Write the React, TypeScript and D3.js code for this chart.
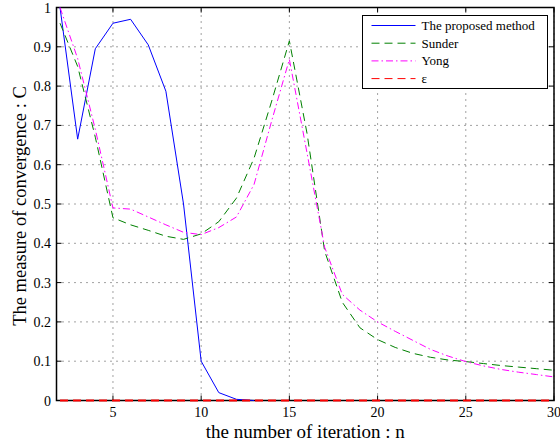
import React from "react";
import * as d3 from "d3";

// Iteration numbers for each series
const proposedN = [2, 3, 4, 5, 6, 7, 8, 9, 10, 11, 12, 13];
const proposedC = [1.0, 0.665, 0.895, 0.96, 0.97, 0.905, 0.787, 0.5, 0.1, 0.02, 0.003, 0.0];

const compareN = [2, 3, 4, 5, 6, 7, 8, 9, 10, 11, 12, 13, 14, 15, 16, 17, 18, 19, 20, 21, 22, 23, 24, 25, 26, 27, 28, 29, 30];
const sunderC = [0.96, 0.85, 0.67, 0.465, 0.447, 0.433, 0.418, 0.41, 0.424, 0.455, 0.515, 0.617, 0.762, 0.915, 0.68, 0.38, 0.25, 0.185, 0.155, 0.135, 0.12, 0.11, 0.103, 0.099, 0.094, 0.089, 0.085, 0.081, 0.077];
const yongC = [1.0, 0.87, 0.69, 0.49, 0.487, 0.467, 0.447, 0.428, 0.422, 0.44, 0.467, 0.55, 0.712, 0.868, 0.63, 0.39, 0.27, 0.23, 0.2, 0.176, 0.153, 0.13, 0.113, 0.099, 0.088, 0.079, 0.072, 0.066, 0.06];

const epsN = [2, 30];
const epsC = [0, 0];

const xTicks = [5, 10, 15, 20, 25, 30];
const yTicks = [0, 0.1, 0.2, 0.3, 0.4, 0.5, 0.6, 0.7, 0.8, 0.9, 1];

const legendLabels = ["The proposed method", "Sunder", "Yong", "ε"];

const W = 560;
const H = 444;
const plot = { left: 56.5, right: 554, top: 7.5, bottom: 400.5 };
const font = "'Liberation Serif', 'Times New Roman', serif";

export default function App() {
  const x = d3.scaleLinear().domain([1.8, 30]).range([plot.left, plot.right]);
  const y = d3.scaleLinear().domain([0, 1]).range([plot.bottom, plot.top]);

  const line = (xs: number[], ys: number[]) =>
    d3
      .line<number>()
      .x((_, i) => x(xs[i]))
      .y((d) => y(d))(ys) as string;

  const series = [
    { label: legendLabels[0], d: line(proposedN, proposedC), color: "#0000ff", dash: "", width: 1 },
    { label: legendLabels[1], d: line(compareN, sunderC), color: "#008000", dash: "8,5", width: 1 },
    { label: legendLabels[2], d: line(compareN, yongC), color: "#ff00ff", dash: "7,3,1.5,3", width: 1 },
    { label: legendLabels[3], d: line(epsN, epsC), color: "#ff0000", dash: "8,5", width: 2 },
  ];

  const tickLen = 5;
  const legend = { x: 362.5, y: 15.5, w: 185, h: 73, rowH: 17.7 };

  return (
    <svg width={W} height={H} style={{ position: "absolute", left: 0, top: 0, background: "#fff" }}>
      <rect x={0} y={0} width={W} height={H} fill="#fff" />
      {/* dotted grid */}
      <g stroke="#444" strokeWidth={1} strokeDasharray="1,5">
        {xTicks.map((t) => (
          <line key={"gx" + t} x1={x(t)} x2={x(t)} y1={plot.bottom} y2={plot.top} />
        ))}
        {yTicks.map((t) => (
          <line key={"gy" + t} x1={plot.left} x2={plot.right} y1={y(t)} y2={y(t)} />
        ))}
      </g>
      {/* inward ticks on all four sides */}
      <g stroke="#000" strokeWidth={1}>
        {xTicks.map((t) => (
          <g key={"tx" + t}>
            <line x1={x(t)} x2={x(t)} y1={plot.bottom} y2={plot.bottom - tickLen} />
            <line x1={x(t)} x2={x(t)} y1={plot.top} y2={plot.top + tickLen} />
          </g>
        ))}
        {yTicks.map((t) => (
          <g key={"ty" + t}>
            <line x1={plot.left} x2={plot.left + tickLen} y1={y(t)} y2={y(t)} />
            <line x1={plot.right} x2={plot.right - tickLen} y1={y(t)} y2={y(t)} />
          </g>
        ))}
      </g>
      <rect
        x={plot.left}
        y={plot.top}
        width={plot.right - plot.left}
        height={plot.bottom - plot.top}
        fill="none"
        stroke="#000"
        strokeWidth={1.5}
      />
      {/* data */}
      <g fill="none">
        {series.map((s) => (
          <path key={s.label} d={s.d} stroke={s.color} strokeWidth={s.width} strokeDasharray={s.dash || undefined} />
        ))}
      </g>
      {/* tick labels */}
      <g fontFamily={font} fontSize={14} fill="#000">
        {xTicks.map((t) => (
          <text key={"lx" + t} x={x(t)} y={417} textAnchor="middle">
            {t}
          </text>
        ))}
        {yTicks.map((t) => (
          <text key={"ly" + t} x={51} y={y(t) + 5} textAnchor="end">
            {t}
          </text>
        ))}
      </g>
      {/* axis titles */}
      <text x={(plot.left + plot.right) / 2} y={438} textAnchor="middle" fontFamily={font} fontSize={19}>
        the number of iteration : n
      </text>
      <text
        transform={`translate(26, ${(plot.top + plot.bottom) / 2 + 2}) rotate(-90)`}
        textAnchor="middle"
        fontFamily={font}
        fontSize={18.5}
      >
        The measure of convergence : C
      </text>
      {/* legend */}
      <g>
        <rect x={legend.x} y={legend.y} width={legend.w} height={legend.h} fill="#fff" stroke="#000" strokeWidth={1} />
        {series.map((s, i) => {
          const cy = legend.y + 10 + i * legend.rowH;
          return (
            <g key={"lg" + s.label}>
              <line
                x1={legend.x + 9}
                x2={legend.x + 53}
                y1={cy}
                y2={cy}
                stroke={s.color}
                strokeWidth={1}
                strokeDasharray={s.dash || undefined}
              />
              <text x={legend.x + 59} y={cy + 4.5} fontFamily={font} fontSize={13}>
                {s.label}
              </text>
            </g>
          );
        })}
      </g>
    </svg>
  );
}
